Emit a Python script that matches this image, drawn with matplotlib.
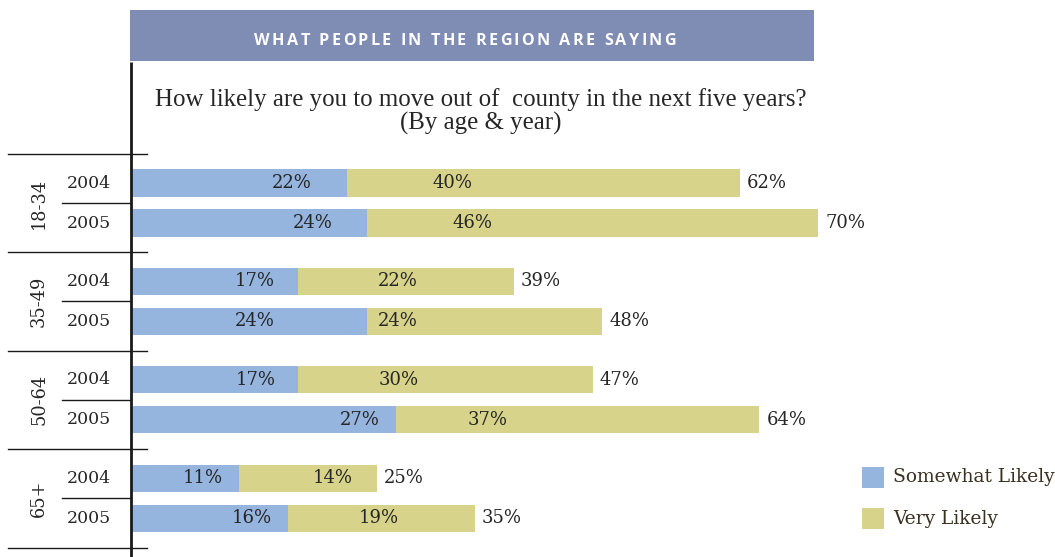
import matplotlib
matplotlib.use("Agg")
import matplotlib.pyplot as plt
from matplotlib.patches import Rectangle
from matplotlib.transforms import blended_transform_factory
from matplotlib.font_manager import FontProperties

# ---- data ----
age_groups = ["18-34", "35-49", "50-64", "65+"]
years = ["2004", "2005"]
somewhat_likely = [22, 24, 17, 24, 17, 27, 11, 16]
very_likely = [40, 46, 22, 24, 30, 37, 14, 19]
series_names = ["Somewhat Likely", "Very Likely"]
banner_title = "WHAT PEOPLE IN THE REGION ARE SAYING"
subtitle_lines = ["How likely are you to move out of  county in the next five years?",
                  "(By age & year)"]

# ---- layout (label anchor positions, in percent units, as placed in the original) ----
somewhat_label_x = [16.4, 18.5, 12.6, 12.6, 12.7, 23.3, 7.3, 12.3]
very_label_x = [32.7, 34.8, 27.2, 27.2, 27.3, 36.3, 20.5, 25.2]

# ---- style ----
W, H = 1055, 557
C_BLUE = "#95b4de"
C_KHAKI = "#d8d38a"
C_BANNER = "#7f8cb4"
TXT = "#262626"
SERIF = "DejaVu Serif"
FS = 13

fig = plt.figure(figsize=(W / 100, H / 100), dpi=100)

def fx(px):
    return px / W

def fy(py):
    return 1 - py / H

PX_PER_PCT = 9.82
ax_left, ax_right = 131, 131 + 75 * PX_PER_PCT
ax_top, ax_bot = 62, 557
ax = fig.add_axes([fx(ax_left), fy(ax_bot), fx(ax_right) - fx(ax_left), fy(ax_top) - fy(ax_bot)])
ax.set_xlim(0, 75)
GROUP_STEP = 2.46
ax.set_ylim(9.35, -3.025)
ax.axis("off")

ypos = []
for g in range(len(age_groups)):
    for k in range(len(years)):
        ypos.append(g * GROUP_STEP + k)

bh = 0.68
ax.barh(ypos, somewhat_likely, height=bh, color=C_BLUE, label=series_names[0])
ax.barh(ypos, very_likely, left=somewhat_likely, height=bh, color=C_KHAKI, label=series_names[1])

for y, a, b, xa, xb in zip(ypos, somewhat_likely, very_likely, somewhat_label_x, very_label_x):
    ax.text(xa, y, f"{a}%", ha="center", va="center", fontsize=FS, family=SERIF, color=TXT)
    ax.text(xb, y, f"{b}%", ha="center", va="center", fontsize=FS, family=SERIF, color=TXT)
    ax.annotate(f"{a + b}%", xy=(a + b, y), xytext=(5, 0), textcoords="offset points",
                ha="left", va="center", fontsize=FS, family=SERIF, color=TXT)

# vertical axis line
ax.plot([0, 0], [9.35, -3.025], color="#1a1a1a", lw=2.0, clip_on=False, solid_capstyle="butt")

# separators and labels (x in figure coords, y in data)
tr = blended_transform_factory(fig.transFigure, ax.transData)
for g, age in enumerate(age_groups):
    ysep = g * GROUP_STEP - 0.725
    ax.plot([fx(8), fx(147)], [ysep, ysep], color="#1a1a1a", lw=1.0, transform=tr, clip_on=False)
    ymid = g * GROUP_STEP + 0.5
    ax.plot([fx(62), fx(131)], [ymid, ymid], color="#1a1a1a", lw=1.0, transform=tr, clip_on=False)
    ax.text(fx(39), ymid, age, rotation=90, ha="center", va="center", fontsize=12.8,
            family=SERIF, color=TXT, transform=tr)
    for k, yr in enumerate(years):
        ax.text(fx(89), g * GROUP_STEP + k, yr, ha="center", va="center", fontsize=12.5,
                family=SERIF, color=TXT, transform=tr)
ysep = len(age_groups) * GROUP_STEP - 0.725
ax.plot([fx(8), fx(147)], [ysep, ysep], color="#1a1a1a", lw=1.0, transform=tr, clip_on=False)

# banner
fig.patches.append(Rectangle((fx(130), fy(61)), fx(814) - fx(130), fy(10) - fy(61),
                             transform=fig.transFigure, facecolor=C_BANNER, edgecolor="none"))
# letter-spaced banner title
renderer = fig.canvas.get_renderer()
bprop = FontProperties(family="Open Sans", weight="bold", size=11.6)
TRACK = 2.4
widths = [renderer.get_text_width_height_descent(ch, bprop, ismath=False)[0] for ch in banner_title]
total = sum(widths) + TRACK * (len(banner_title) - 1)
xcur = 465 - total / 2
for ch, w in zip(banner_title, widths):
    if ch != " ":
        fig.text(fx(xcur), fy(45), ch, ha="left", va="baseline", color="white",
                 fontproperties=bprop)
    xcur += w + TRACK

# subtitle
for i, line in enumerate(subtitle_lines):
    fig.text(fx(481), fy(100 + 23 * i), line, ha="center", va="center", fontsize=17.9,
             family="Liberation Serif", color=TXT)

# legend
for i, (name, col) in enumerate(zip(series_names, [C_BLUE, C_KHAKI])):
    top = 467 + i * 41
    fig.patches.append(Rectangle((fx(862), fy(top + 21)), fx(884) - fx(862), fy(top) - fy(top + 21),
                                 transform=fig.transFigure, facecolor=col, edgecolor="none"))
    fig.text(fx(893), fy(top + 10.5), name, ha="left", va="center", fontsize=13.4,
             family=SERIF, color="#3a3020")

fig.savefig("out.png", dpi=100)
